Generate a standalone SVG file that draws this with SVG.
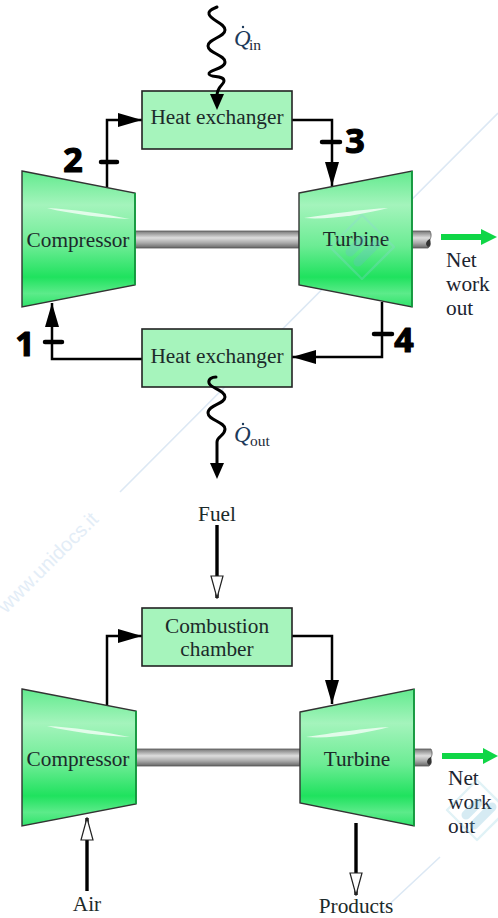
<svg xmlns="http://www.w3.org/2000/svg" width="498" height="918" viewBox="0 0 498 918">
<style>
.t{font-family:"Liberation Serif","Times New Roman",serif;font-size:21.3px;fill:#1c2a2a;text-anchor:middle}
.l{font-family:"Liberation Serif","Times New Roman",serif;font-size:21.3px;fill:#1c2430}
.q{font-family:"Liberation Serif","Times New Roman",serif;font-size:23px;font-style:italic;fill:#1c3a5a}
.s{font-family:"Liberation Serif","Times New Roman",serif;font-size:15.5px;fill:#1c2a3a}
.box{fill:#a6f4bc;stroke:#222;stroke-width:1.6}
.m{fill:url(#g);stroke:#333;stroke-width:1.4}
.e{fill:none;stroke:#0aa83c;stroke-width:1.6}
.sh{fill:url(#sh);stroke:#555;stroke-width:.8}
.w{fill:none;stroke:#000;stroke-width:2.5}
.c{fill:none;stroke:#000;stroke-width:3.4}
.hw{fill:none;stroke:#000;stroke-width:3;stroke-linecap:round;stroke-linejoin:round}
.hand{font-family:"Open Sans",sans-serif;font-size:34px;font-weight:bold;fill:#000;stroke:#000;stroke-width:1.2;stroke-linejoin:round;text-anchor:middle}
.wm{fill:none;stroke:#dce8f4;stroke-width:1.6}
.dm{fill:none;stroke:#8fd0e0;stroke-opacity:.28;stroke-width:2.4;stroke-linejoin:round}
.db{fill:none;stroke:#6cb8d4;stroke-opacity:.28;stroke-width:9;stroke-linecap:round}
</style>
<defs>
<linearGradient id="g" x1="0" y1="0" x2="0" y2="1">
<stop offset="0" stop-color="#62ea8e"/><stop offset=".25" stop-color="#a4f4bc"/><stop offset=".55" stop-color="#6cec94"/><stop offset=".78" stop-color="#1fe25e"/><stop offset=".9" stop-color="#5ceb8a"/><stop offset="1" stop-color="#2fe36a"/>
</linearGradient>
<linearGradient id="sh" x1="0" y1="0" x2="0" y2="1">
<stop offset="0" stop-color="#777"/><stop offset=".4" stop-color="#ddd"/><stop offset=".7" stop-color="#aaa"/><stop offset="1" stop-color="#666"/>
</linearGradient>
<marker id="a" markerUnits="userSpaceOnUse" viewBox="0 0 24 14" refX="24" refY="7" markerWidth="24" markerHeight="14" orient="auto"><path d="M0 0L24 7L0 14Z" fill="#000"/></marker>
<marker id="o" markerUnits="userSpaceOnUse" viewBox="0 0 24 14" refX="23" refY="7" markerWidth="24" markerHeight="14" orient="auto"><path d="M1 1L23 7L1 13Z" fill="#fff" stroke="#222" stroke-width="1.2"/></marker>
</defs>
<g id="watermark">
<path class="wm" d="M498 113L120 492M440 857L380 913"/>
<text x="6" y="614" transform="rotate(-45 6 614)" style="font-family:'Liberation Sans',sans-serif;font-size:20px;fill:#e3edf7">www.unidocs.it</text>
</g>
<g id="connectors">
<path class="w" d="M107 187V120H142" marker-end="url(#a)"/>
<path class="w" d="M292 120H332V186" marker-end="url(#a)"/>
<path class="w" d="M382 302V357H292" marker-end="url(#a)"/>
<path class="w" d="M142 359H52V303" marker-end="url(#a)"/>
<path class="c" d="M217 525V598" marker-end="url(#o)"/>
<path class="w" d="M107 705V636H142" marker-end="url(#a)"/>
<path class="w" d="M292 636H332V704" marker-end="url(#a)"/>
<path class="c" d="M87 891V818" marker-end="url(#o)"/>
<path class="c" d="M356 823V895" marker-end="url(#o)"/>
</g>
<g id="ticks">
<path class="hw" d="M101 162H117M322 142H340M45 342H62M374 334H392" style="stroke-width:4.5"/>
</g>
<g id="upper-shaft"><path class="sh" d="M135 231H299V248H135Z"/><path class="sh" d="M412 231H430C432 235 431 238 429 241C430 244 431 246 428 248H412Z"/><path d="M428 247C424 244 427 240 430 239C431 243 431 246 428 247Z" fill="#333"/></g>
<g id="lower-shaft"><path class="sh" d="M136 749H300V766H136Z"/><path class="sh" d="M414 749H431C433 753 432 756 430 759C431 762 432 764 429 766H414Z"/><path d="M429 765C425 762 428 758 431 757C432 761 432 764 429 765Z" fill="#333"/></g>
<g id="compressor-1"><path class="m" d="M22 171L135 193V285L22 307Z"/><path class="e" d="M135 193V285"/><path d="M47 208C70 209 105 214 130 219C105 218 70 214 47 208Z" fill="#e2fcea"/><text class="t" x="78" y="247">Compressor</text></g>
<g id="turbine-1"><path class="m" d="M299 193L412 171V307L299 285Z"/><path class="e" d="M412 171V307"/><path d="M304 218C330 214 365 209 388 208C365 214 330 220 304 218Z" fill="#e2fcea"/><text class="t" x="356" y="246">Turbine</text></g>
<g id="heat-exchanger-1"><rect class="box" x="142" y="91" width="150" height="58"/><text class="t" x="217" y="124">Heat exchanger</text></g>
<g id="heat-exchanger-2"><rect class="box" x="142" y="329" width="150" height="58"/><text class="t" x="217" y="363">Heat exchanger</text></g>
<g id="heat-in"><path class="hw" d="M217 7C212 9 208 11 209 14C210 20 225 23 225 30C225 37 208 39 208 46C208 53 225 55 225 62C225 69 208 70 209 74C210 78 224 75 224 81C224 85 217 86 217 96"/><path d="M210 94H224L217 110Z" fill="#000"/></g>
<g id="heat-out"><path class="hw" d="M216 377C212 377 208 379 209 383C210 388 225 390 225 397C225 404 208 405 208 413C208 420 225 422 225 429C225 436 217 436 217 442V465"/><path d="M210 463H224L217 479Z" fill="#000"/></g>
<g id="combustion"><rect class="box" x="142" y="608" width="150" height="58"/><text class="t" x="217" y="633">Combustion</text><text class="t" x="217" y="656">chamber</text></g>
<g id="compressor-2"><path class="m" d="M22 689L136 711V804L22 826Z"/><path class="e" d="M136 711V804"/><path d="M47 726C70 727 105 732 130 737C105 736 70 732 47 726Z" fill="#e2fcea"/><text class="t" x="78" y="766">Compressor</text></g>
<g id="turbine-2"><path class="m" d="M300 712L414 689V826L300 803Z"/><path class="e" d="M414 689V826"/><path d="M306 737C332 733 367 728 389 727C367 733 332 739 306 737Z" fill="#e2fcea"/><text class="t" x="357" y="766">Turbine</text></g>
<g id="labels">
<text class="q" x="234" y="46">Q</text><circle cx="243" cy="27" r="1.2" fill="#1c3a5a"/><text class="s" x="249" y="50">in</text>
<text class="q" x="234" y="442">Q</text><circle cx="243" cy="424" r="1.2" fill="#1c3a5a"/><text class="s" x="250" y="446">out</text>
<text class="t" x="217" y="521">Fuel</text><text class="t" x="87" y="911">Air</text><text class="t" x="356" y="913">Products</text>
<text class="l" x="446" y="267">Net</text><text class="l" x="446" y="291">work</text><text class="l" x="446" y="315">out</text>
<text class="l" x="448" y="785">Net</text><text class="l" x="448" y="809">work</text><text class="l" x="448" y="833">out</text>
<text class="hand" x="73" y="172">2</text><text class="hand" x="355" y="153">3</text><text class="hand" x="25" y="356">1</text><text class="hand" x="404" y="352">4</text>
</g>
<g id="work-arrows">
<path d="M441 234H481V229L497 237L481 245V240H441Z" fill="#0fd646"/>
<path d="M442 753H483V748L498 756L483 764V759H442Z" fill="#0fd646"/>
</g>
<g id="watermark-logos">
<path class="dm" d="M362 215L394 247L362 279L330 247Z"/><path class="db" d="M350 252L362 240M358 262L376 244"/>
<path class="dm" d="M477 780L507 810L477 840L447 810Z"/><path class="db" d="M466 815L478 803M474 825L492 807"/>
</g>
</svg>
